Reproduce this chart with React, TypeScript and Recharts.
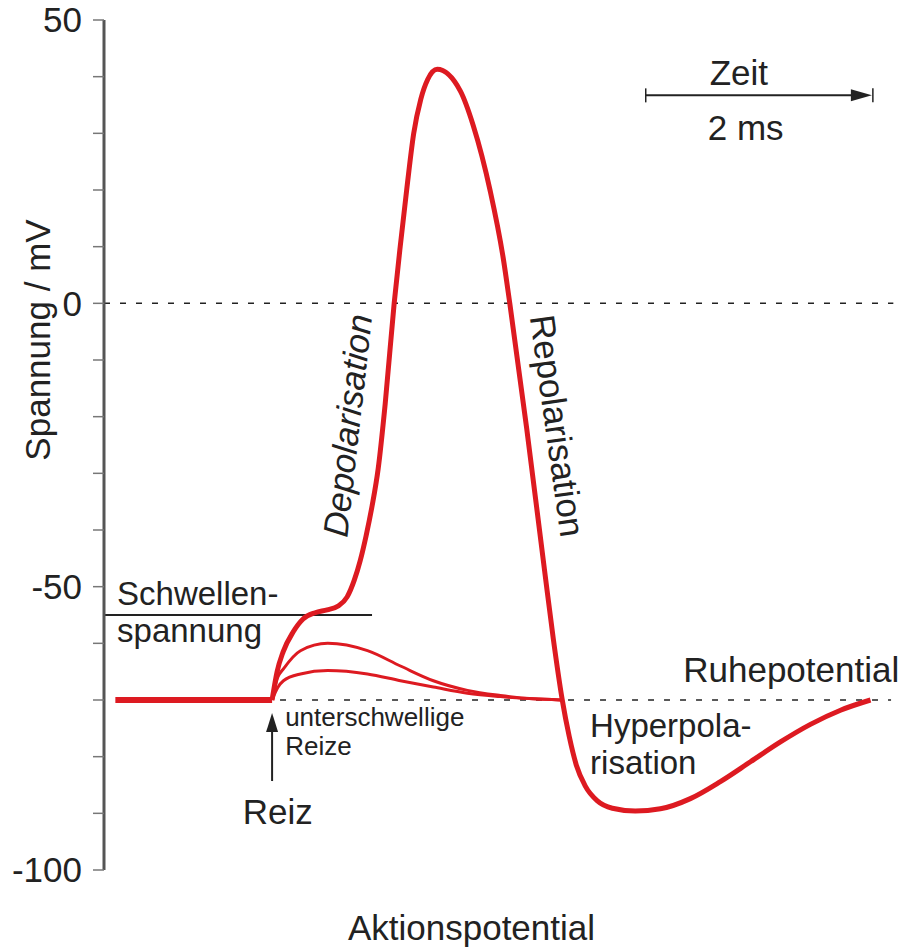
import { LineChart, Line, XAxis, YAxis, ReferenceLine, ReferenceDot } from "recharts";

const RED = "#dd1a21";
const INK = "#222";
const FONT = "'Liberation Sans', Arial, sans-serif";
const FS = 35;

// time in ms, membrane voltage in mV
const restTime = [0.1, 1.48];
const restVolt = [-70, -70];

const apTime = [
  1.48, 1.524, 1.577, 1.665, 1.753, 1.859, 1.965, 2.062, 2.141, 2.203, 2.256, 2.308, 2.361,
  2.414, 2.476, 2.555, 2.608, 2.665, 2.727, 2.789, 2.85, 2.934, 3.137, 3.251,
  3.401, 3.515, 3.573, 3.722, 3.877, 3.956, 4.035, 4.097, 4.159, 4.238, 4.344, 4.476, 4.678,
  4.899, 5.163, 5.427, 5.692, 5.956, 6.22, 6.485, 6.749,
];
const apVolt = [
  -70, -65, -61.5, -58, -55.7, -54.6, -54.1, -53.4, -51.8, -48.9, -45.4, -41, -35.7,
  -29.2, -17.7, 0, 10, 20, 30, 36, 39.5, 41.3, 37.5, 31.4,
  19.8, 8, 0, -22.1, -46.8, -59.2, -70, -76.5, -81.5, -85.2, -87.8, -89.1, -89.6,
  -89.2, -87.4, -84.4, -80.9, -77.4, -74.3, -71.8, -70,
];

// subthreshold stimuli
const sub1Time = [1.48, 1.53, 1.58, 1.73, 1.97, 2.32, 2.61, 2.9, 3.2, 3.49, 3.78, 4.02];
const sub1Volt = [-70, -66, -64.5, -61.3, -60, -61.3, -64, -66.6, -68.3, -69.2, -69.8, -70];
const sub2Time = [1.48, 1.53, 1.58, 1.73, 1.97, 2.32, 2.61, 2.9, 3.2, 3.49, 3.78, 4.02];
const sub2Volt = [-70, -67.8, -66.6, -65.4, -64.8, -65.4, -66.6, -67.7, -68.8, -69.4, -69.8, -70];

const yTicks = [-100, -90, -80, -70, -60, -50, -40, -30, -20, -10, 0, 10, 20, 30, 40, 50];
const yLabelled = [50, 0, -50, -100];

const THRESHOLD = -55;
const REST = -70;

type Note = {
  text: string;
  t: number;
  v: number;
  anchor?: "start" | "middle" | "end";
  size?: number;
  rotate?: number;
  italic?: boolean;
};

const notes: Note[] = [
  { text: "Schwellen-", t: 0.115, v: -53.2, size: 33 },
  { text: "spannung", t: 0.115, v: -59.7, size: 33 },
  { text: "Depolarisation", t: 2.251, v: -21.8, anchor: "middle", rotate: -83.6, italic: true },
  { text: "Repolarisation", t: 3.885, v: -21.9, anchor: "middle", rotate: 82 },
  { text: "unterschwellige", t: 1.595, v: -74.5, size: 26 },
  { text: "Reize", t: 1.595, v: -79.7, size: 26 },
  { text: "Reiz", t: 1.53, v: -91.9, anchor: "middle" },
  { text: "Ruhepotential", t: 5.1, v: -66.8 },
  { text: "Hyperpola-", t: 4.28, v: -76.5, size: 33 },
  { text: "risation", t: 4.28, v: -83.1, size: 33 },
  { text: "Zeit", t: 5.59, v: 38.5, anchor: "middle" },
  { text: "2 ms", t: 5.65, v: 28.8, anchor: "middle" },
];

const zip = (ts: number[], vs: number[]) => ts.map((t, i) => ({ t, v: vs[i] }));

function noteShape(n: Note) {
  return (props: any) => {
    const { cx, cy } = props;
    return (
      <text
        x={cx}
        y={cy}
        textAnchor={n.anchor ?? "start"}
        fontSize={n.size ?? FS}
        fontStyle={n.italic ? "italic" : "normal"}
        fill={INK}
        fontFamily={FONT}
        transform={n.rotate ? `rotate(${n.rotate} ${cx} ${cy})` : undefined}
      >
        {n.text}
      </text>
    );
  };
}

function TimeArrow(props: any) {
  const { x1, y1, x2 } = props;
  return (
    <g>
      <line x1={x1} y1={y1} x2={x2 - 16} y2={y1} stroke={INK} strokeWidth={2} />
      <line x1={x1} y1={y1 - 7} x2={x1} y2={y1 + 7} stroke={INK} strokeWidth={1.5} />
      <path d={`M${x2 - 22},${y1 - 6} L${x2 - 1},${y1} L${x2 - 22},${y1 + 6} Z`} fill={INK} />
      <line x1={x2} y1={y1 - 7} x2={x2} y2={y1 + 7} stroke={INK} strokeWidth={1.5} />
    </g>
  );
}

function StimulusArrow(props: any) {
  const { x1, y1, y2 } = props;
  return (
    <g>
      <line x1={x1} y1={y1} x2={x1} y2={y2 + 16} stroke={INK} strokeWidth={2} />
      <path d={`M${x1 - 6},${y2 + 19} L${x1},${y2} L${x1 + 6},${y2 + 19} Z`} fill={INK} />
    </g>
  );
}

export default function App() {
  return (
    <div style={{ position: "absolute", left: 0, top: 0, background: "#fff" }}>
      <LineChart
        width={905}
        height={948}
        margin={{ top: 20, right: 6, left: 0, bottom: 0 }}
        style={{ fontFamily: FONT }}
      >
        <XAxis
          dataKey="t"
          type="number"
          domain={[0, 7]}
          height={78}
          axisLine={false}
          tickLine={false}
          tick={false}
          label={{
            content: (p: any) => {
              const vb = p.viewBox;
              return (
                <text x={vb.x + vb.width / 2 - 30} y={vb.y + 70} textAnchor="middle" fontSize={FS} fill={INK} fontFamily={FONT}>
                  Aktionspotential
                </text>
              );
            },
          }}
        />
        <YAxis
          type="number"
          domain={[-100, 50]}
          ticks={yTicks}
          interval={0}
          width={104}
          tickSize={11}
          tickMargin={11}
          axisLine={{ stroke: "#555", strokeWidth: 3 }}
          tickLine={{ stroke: "#777", strokeWidth: 1.5 }}
          tick={{ fontSize: FS, fill: INK, fontFamily: FONT }}
          tickFormatter={(v: number) => (yLabelled.includes(v) ? String(v) : "")}
          label={{
            content: (p: any) => {
              const vb = p.viewBox;
              const x = vb.x + 50;
              const y = vb.y + 320;
              return (
                <text x={x} y={y} textAnchor="middle" fontSize={FS} fill={INK} fontFamily={FONT} transform={`rotate(-90 ${x} ${y})`}>
                  Spannung / mV
                </text>
              );
            },
          }}
        />

        <ReferenceLine segment={[{ x: 0, y: 0 }, { x: 6.95, y: 0 }]} stroke={INK} strokeWidth={1.5} strokeDasharray="6 10" />
        <ReferenceLine segment={[{ x: 1.55, y: REST }, { x: 6.93, y: REST }]} stroke={INK} strokeWidth={1.5} strokeDasharray="6 10" />
        <ReferenceLine segment={[{ x: 0, y: THRESHOLD }, { x: 2.36, y: THRESHOLD }]} stroke={INK} strokeWidth={2} />
        <ReferenceLine segment={[{ x: 4.77, y: 36.7 }, { x: 6.77, y: 36.7 }]} shape={TimeArrow} />
        <ReferenceLine segment={[{ x: 1.48, y: -84.3 }, { x: 1.48, y: -72.3 }]} shape={StimulusArrow} />

        <Line data={zip(sub1Time, sub1Volt)} dataKey="v" type="monotone" stroke={RED} strokeWidth={3} dot={false} activeDot={false} isAnimationActive={false} />
        <Line data={zip(sub2Time, sub2Volt)} dataKey="v" type="monotone" stroke={RED} strokeWidth={3} dot={false} activeDot={false} isAnimationActive={false} />
        <Line data={zip(restTime, restVolt)} dataKey="v" type="linear" stroke={RED} strokeWidth={6} dot={false} activeDot={false} isAnimationActive={false} />
        <Line data={zip(apTime, apVolt)} dataKey="v" type="monotone" stroke={RED} strokeWidth={5} dot={false} activeDot={false} isAnimationActive={false} />

        {notes.map((n) => (
          <ReferenceDot key={n.text} x={n.t} y={n.v} r={1} ifOverflow="visible" shape={noteShape(n)} />
        ))}
      </LineChart>
    </div>
  );
}
